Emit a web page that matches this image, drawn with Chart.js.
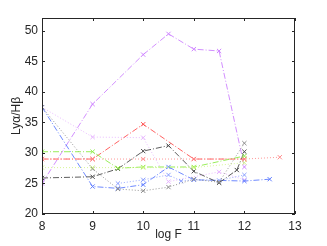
<!DOCTYPE html>
<html>
<head>
<meta charset="utf-8">
<script src="https://cdn.jsdelivr.net/npm/chart.js@4/dist/chart.umd.min.js"></script>
<style>
  html, body { margin: 0; padding: 0; background: #fff; }
  #wrap { width: 327px; height: 246px; }
</style>
</head>
<body>
<div id="wrap"><canvas id="c" width="327" height="246"></canvas></div>
<script>
// axis ticks
const xTicks = [8, 9, 10, 11, 12, 13];
const yTicks = [20, 25, 30, 35, 40, 45, 50];

// series (log F, Lya/Hb)
const violetX = [8, 9, 10, 10.5, 11, 11.5, 12];
const violetY = [25, 38, 46.1, 49.5, 47, 46.7, 27.7];

const violetDotX = [8, 9, 10, 10.5, 11.5, 12];
const violetDotY = [37.5, 32.6, 32.5, 25.3, 26.9, 25.6];

const blueX = [8, 9, 9.5, 10, 10.5, 11, 12, 12.5];
const blueY = [37.5, 24.5, 24.2, 24.8, 27.7, 25.6, 25.4, 25.7];

const blueDotX = [9.5, 10, 10.5, 10.75, 11, 11.5, 12];
const blueDotY = [25.0, 25.6, 26.4, 25.4, 25.6, 25.5, 26.4];

const redX = [8, 9, 10, 11, 12];
const redY = [29, 29, 34.7, 29, 29];

const redDotX = [8, 9, 10, 11, 12, 12.7];
const redDotY = [29, 29, 29, 29, 29, 29.3];

const greenX = [8, 9, 9.5, 10, 11, 12];
const greenY = [30.2, 30.2, 27.5, 27.7, 27.7, 29.5];

const greenDotX = [8, 9, 10, 11, 12];
const greenDotY = [27.6, 27.6, 27.6, 27.6, 28.4];

const blackX = [8, 9, 9.5, 10, 10.5, 11, 11.5, 11.85, 12];
const blackY = [25.9, 26.1, 27.4, 30.3, 31.2, 27.0, 25.1, 27.2, 30.2];

const grayDotX = [8, 9, 9.5, 10, 10.5, 11, 11.5, 12];
const grayDotY = [37.5, 27.4, 24.1, 23.8, 24.4, 25.7, 25.2, 31.6];

const dashDot = [6, 2, 1, 2];
const dotted = [1, 2];

function pts(xs, ys) { return xs.map((x, i) => ({ x: x, y: ys[i] })); }

function series(xs, ys, color, dash) {
  return {
    data: pts(xs, ys),
    showLine: true,
    borderColor: color,
    backgroundColor: color,
    borderWidth: 0.9,
    borderDash: dash,
    pointStyle: 'crossRot',
    pointRadius: 3,
    pointBorderWidth: 1,
    pointBorderColor: color,
    pointHoverRadius: 3,
    tension: 0
  };
}

// box around the axes with inward ticks, like the original
const boxPlugin = {
  id: 'box',
  afterDatasetsDraw(chart) {
    const ctx = chart.ctx, a = chart.chartArea;
    const xs = chart.scales.x, ys = chart.scales.y;
    ctx.save();
    ctx.strokeStyle = '#262626';
    ctx.lineWidth = 1;
    ctx.strokeRect(a.left + 0.5, a.top + 0.5, a.right - a.left - 1, a.bottom - a.top - 1);
    ctx.beginPath();
    xTicks.forEach(v => {
      const p = Math.round(xs.getPixelForValue(v)) + 0.5;
      ctx.moveTo(p, a.bottom); ctx.lineTo(p, a.bottom - 3);
      ctx.moveTo(p, a.top); ctx.lineTo(p, a.top + 3);
    });
    yTicks.forEach(v => {
      const p = Math.round(ys.getPixelForValue(v)) + 0.5;
      ctx.moveTo(a.left, p); ctx.lineTo(a.left + 3, p);
      ctx.moveTo(a.right, p); ctx.lineTo(a.right - 3, p);
    });
    ctx.stroke();
    ctx.restore();
  }
};

new Chart(document.getElementById('c'), {
  type: 'scatter',
  data: {
    datasets: [
      series(greenDotX, greenDotY, 'rgb(210,245,140)', dotted),
      series(greenX, greenY, 'rgb(140,235,70)', dashDot),
      series(redDotX, redDotY, 'rgb(255,140,140)', dotted),
      series(redX, redY, 'rgb(255,80,80)', dashDot),
      series(grayDotX, grayDotY, 'rgb(140,140,140)', dotted),
      series(blackX, blackY, 'rgb(75,75,75)', dashDot),
      series(blueDotX, blueDotY, 'rgb(140,160,255)', dotted),
      series(blueX, blueY, 'rgb(95,125,255)', dashDot),
      series(violetDotX, violetDotY, 'rgb(230,180,255)', dotted),
      series(violetX, violetY, 'rgb(205,130,255)', dashDot)
    ]
  },
  options: {
    responsive: false,
    animation: false,
    layout: { padding: { top: 18, right: 32, left: 0, bottom: 0 } },
    plugins: { legend: { display: false }, tooltip: { enabled: false } },
    scales: {
      x: {
        type: 'linear', min: 8, max: 13,
        afterFit: s => { s.height = 32; },
        afterBuildTicks: s => { s.ticks = xTicks.map(v => ({ value: v })); },
        grid: { display: false, drawTicks: false },
        border: { display: false },
        ticks: { padding: 5, color: '#262626', maxRotation: 0,
                 font: { family: 'Liberation Sans', size: 12 } },
        title: { display: true, text: 'log F', color: '#262626', padding: { top: 0, bottom: 4 },
                 font: { family: 'Liberation Sans', size: 12 } }
      },
      y: {
        type: 'linear', min: 20, max: 52.1,
        afterFit: s => { s.width = 42; },
        afterBuildTicks: s => { s.ticks = yTicks.map(v => ({ value: v })); },
        grid: { display: false, drawTicks: false },
        border: { display: false },
        ticks: { padding: 4, color: '#262626',
                 font: { family: 'Liberation Sans', size: 12 } },
        title: { display: true, text: 'Lyα/Hβ', color: '#262626', padding: { top: 9, bottom: 0 },
                 font: { family: 'Liberation Sans', size: 12 } }
      }
    }
  },
  plugins: [boxPlugin]
});
</script>
</body>
</html>
